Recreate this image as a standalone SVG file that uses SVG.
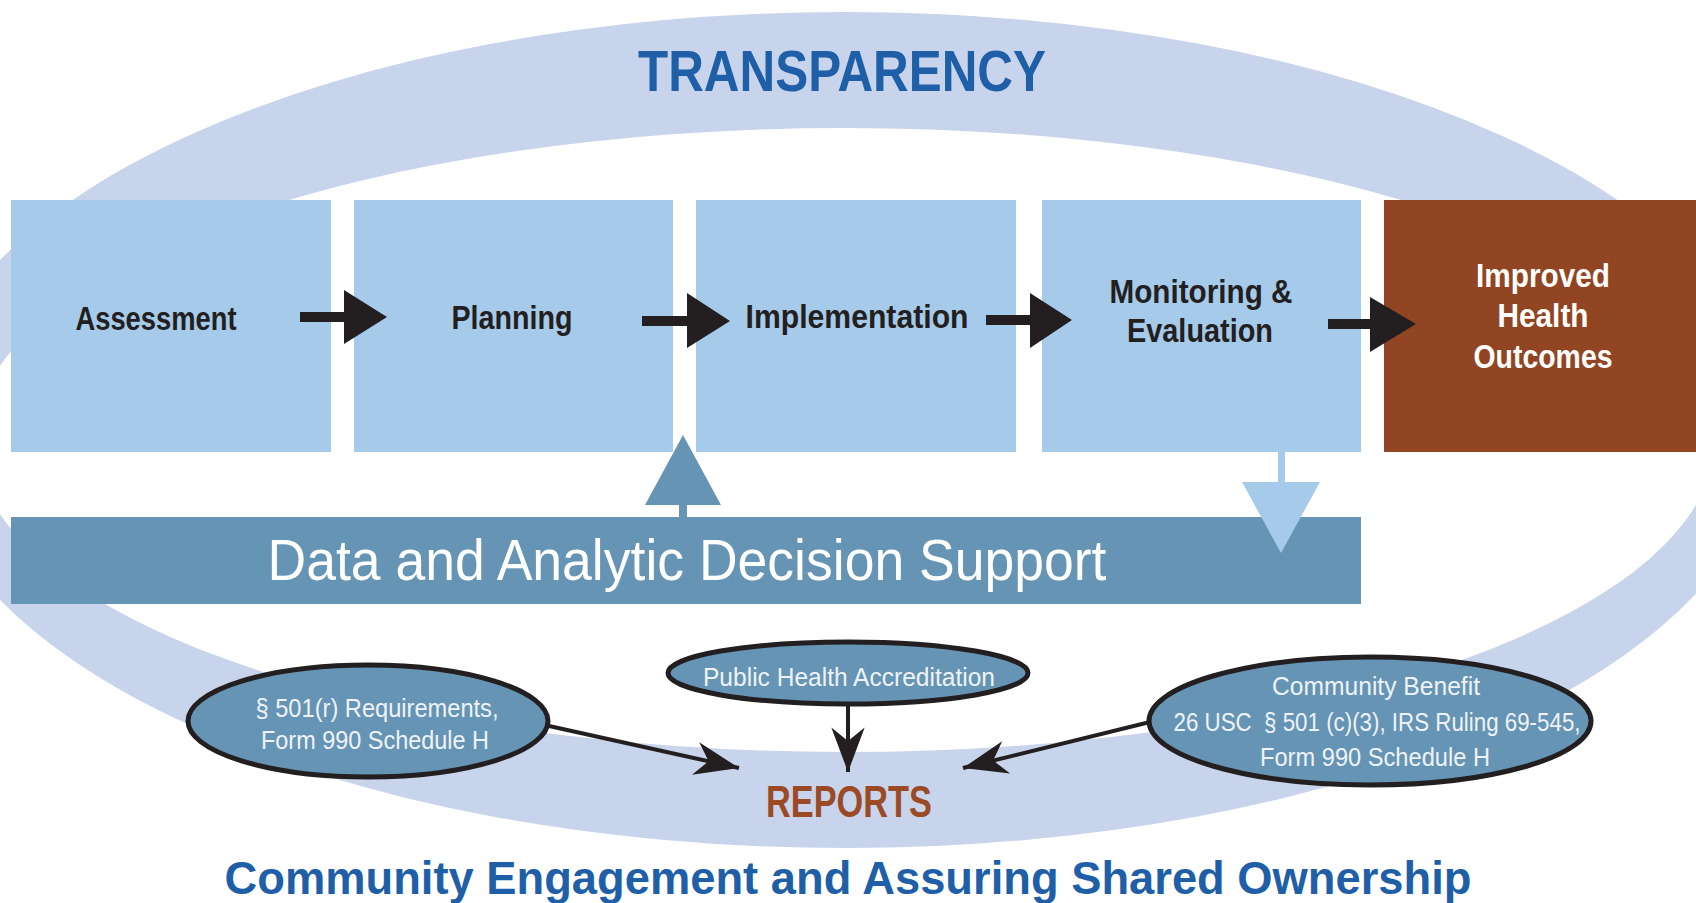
<svg xmlns="http://www.w3.org/2000/svg" width="1696" height="903" viewBox="0 0 1696 903">
<style>
.box{fill:#a5caea}
.lbl{font-family:"Liberation Sans Narrow","Liberation Sans",Arial,sans-serif;font-weight:bold;font-size:33px;fill:#231f20;text-anchor:middle}
.wlbl{font-family:"Liberation Sans Narrow","Liberation Sans",Arial,sans-serif;font-weight:bold;font-size:33px;fill:#ffffff;text-anchor:middle}
.ell{fill:#6694b4;stroke:#231f20;stroke-width:5}
.etx{font-family:"Liberation Sans Narrow","Liberation Sans",Arial,sans-serif;font-size:25px;fill:#eef3f8;text-anchor:middle}
.blk{fill:#231f20}
.con{stroke:#231f20;stroke-width:4;fill:none}
.title{font-family:"Liberation Sans Narrow","Liberation Sans",Arial,sans-serif;font-weight:bold;fill:#1f5fa7;text-anchor:middle}
</style>
<defs>
<marker id="ah" markerUnits="userSpaceOnUse" markerWidth="50" markerHeight="40" viewBox="-42 -18 44 36" refX="0" refY="0" orient="auto">
<path d="M0,0 L-40,-15 L-28,0 L-40,15 Z" fill="#231f20"/>
</marker>
</defs>
<rect width="1696" height="903" fill="#ffffff"/>
<g id="ring">
<path fill="#c8d4eb" fill-rule="evenodd" d="M-80,430 A925,418 0 1 0 1770,430 A925,418 0 1 0 -80,430 Z M-25,440 A870,312 0 1 0 1715,440 A870,312 0 1 0 -25,440 Z"/>
<text class="title" x="842" y="91" font-size="58" textLength="408" lengthAdjust="spacingAndGlyphs">TRANSPARENCY</text>
</g>
<g id="assessment">
<rect class="box" x="11" y="200" width="320" height="252"/>
<text class="lbl" x="156" y="330" textLength="161" lengthAdjust="spacingAndGlyphs">Assessment</text>
</g>
<g id="planning">
<rect class="box" x="354" y="200" width="319" height="252"/>
<text class="lbl" x="512" y="329" textLength="121" lengthAdjust="spacingAndGlyphs">Planning</text>
</g>
<g id="implementation">
<rect class="box" x="696" y="200" width="320" height="252"/>
<text class="lbl" x="857" y="328" textLength="223" lengthAdjust="spacingAndGlyphs">Implementation</text>
</g>
<g id="monitoring">
<rect class="box" x="1042" y="200" width="319" height="252"/>
<text class="lbl" x="1201" y="303" textLength="183" lengthAdjust="spacingAndGlyphs">Monitoring &amp;</text>
<text class="lbl" x="1200" y="342" textLength="146" lengthAdjust="spacingAndGlyphs">Evaluation</text>
</g>
<g id="outcomes">
<rect x="1384" y="200" width="312" height="252" fill="#924522"/>
<text class="wlbl" x="1543" y="287" textLength="134" lengthAdjust="spacingAndGlyphs">Improved</text>
<text class="wlbl" x="1543" y="327" textLength="91" lengthAdjust="spacingAndGlyphs">Health</text>
<text class="wlbl" x="1543" y="368" textLength="139" lengthAdjust="spacingAndGlyphs">Outcomes</text>
</g>
<g id="data-support">
<rect x="11" y="517" width="1350" height="87" fill="#6694b4"/>
<text x="687" y="580" font-family="'Liberation Sans Narrow','Liberation Sans',Arial,sans-serif" font-size="58" fill="#ffffff" text-anchor="middle" textLength="839" lengthAdjust="spacingAndGlyphs">Data and Analytic Decision Support</text>
</g>
<g id="req501r">
<ellipse class="ell" cx="368" cy="721" rx="180" ry="56"/>
<text class="etx" x="377" y="717" textLength="243" lengthAdjust="spacingAndGlyphs">§ 501(r) Requirements,</text>
<text class="etx" x="375" y="749" textLength="228" lengthAdjust="spacingAndGlyphs">Form 990 Schedule H</text>
</g>
<g id="accreditation">
<ellipse class="ell" cx="848" cy="673" rx="180" ry="31"/>
<text class="etx" x="849" y="686" textLength="292" lengthAdjust="spacingAndGlyphs">Public Health Accreditation</text>
</g>
<g id="community-benefit">
<ellipse class="ell" cx="1370" cy="721" rx="221" ry="64"/>
<text class="etx" x="1376" y="695" textLength="208" lengthAdjust="spacingAndGlyphs">Community Benefit</text>
<text class="etx" x="1377" y="731" textLength="407" lengthAdjust="spacingAndGlyphs" xml:space="preserve">26 USC  § 501 (c)(3), IRS Ruling 69-545,</text>
<text class="etx" x="1375" y="766" textLength="230" lengthAdjust="spacingAndGlyphs">Form 990 Schedule H</text>
</g>
<g id="reports">
<text x="849" y="817" font-family="'Liberation Sans Narrow','Liberation Sans',Arial,sans-serif" font-weight="bold" font-size="44" fill="#9c4a26" text-anchor="middle" textLength="166" lengthAdjust="spacingAndGlyphs">REPORTS</text>
</g>
<g id="community-title">
<text class="title" x="848" y="894" font-size="47" textLength="1247" lengthAdjust="spacingAndGlyphs">Community Engagement and Assuring Shared Ownership</text>
</g>
<g id="connectors">
<path class="blk" d="M300,312 H344 V290 L387,317 L344,344 V322 H300 Z"/>
<path class="blk" d="M642,316 H687 V293 L730,321 L687,348 V326 H642 Z"/>
<path class="blk" d="M986,315 H1030 V293 L1072,320 L1030,348 V325 H986 Z"/>
<path class="blk" d="M1328,319 H1370 V297 L1416,324 L1370,352 V329 H1328 Z"/>
<path fill="#6694b4" d="M683,435 L721,505 L687,505 V518 H679 V505 L645,505 Z"/>
<path fill="#a5caea" d="M1278,451 H1285 V482 H1320 L1281,553 L1242,482 H1278 Z"/>
<line class="con" x1="549" y1="726" x2="739" y2="768" marker-end="url(#ah)"/>
<line class="con" x1="848" y1="706" x2="848" y2="772" marker-end="url(#ah)"/>
<line class="con" x1="1150" y1="722" x2="963" y2="768" marker-end="url(#ah)"/>
</g>
</svg>
